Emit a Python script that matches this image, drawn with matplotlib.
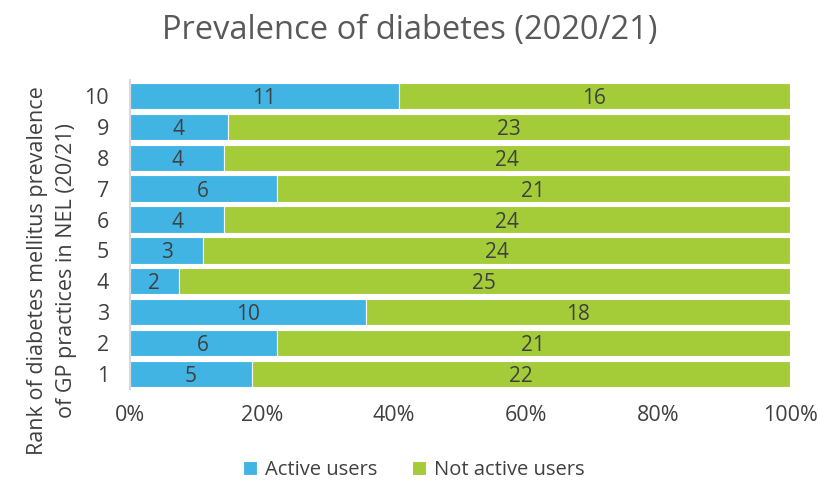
import matplotlib
matplotlib.use("Agg")
import matplotlib.pyplot as plt
import numpy as np

plt.rcParams['font.family'] = ['Open Sans', 'DejaVu Sans']

ranks = ["1", "2", "3", "4", "5", "6", "7", "8", "9", "10"]
active = [5, 6, 10, 2, 3, 4, 6, 4, 4, 11]
not_active = [22, 21, 18, 25, 24, 24, 21, 24, 23, 16]

blue = "#41B4E4"
green = "#A4CC38"
txt = "#404040"

act = np.array(active, float)
nact = np.array(not_active, float)
tot = act + nact
pa = act / tot
pn = nact / tot

fig = plt.figure(figsize=(8.19, 4.86), dpi=100)
ax = fig.add_axes([0.1587, 0.1986, 0.9646 - 0.1587, 0.8344 - 0.1986])
y = np.arange(len(ranks))
b1 = ax.barh(y, pa, height=0.85, color=blue, edgecolor="white", linewidth=0.8, label="Active users")
b2 = ax.barh(y, pn, left=pa, height=0.85, color=green, edgecolor="white", linewidth=0.8, label="Not active users")
for i in range(len(ranks)):
    ax.text(pa[i] / 2, y[i], str(active[i]), ha="center", va="center_baseline", fontsize=15, color=txt)
    ax.text(pa[i] + pn[i] / 2, y[i], str(not_active[i]), ha="center", va="center_baseline", fontsize=15, color=txt)

ax.set_xlim(0, 1)
ax.set_ylim(-0.5, len(ranks) - 0.5)
ax.set_yticks(y)
ax.set_yticklabels(ranks)
ax.set_xticks(np.linspace(0, 1, 6))
ax.set_xticklabels([f"{int(v*100)}%" for v in np.linspace(0, 1, 6)])
ax.tick_params(axis="both", length=0, labelsize=15.5, labelcolor=txt)
ax.tick_params(axis="y", pad=15)
ax.tick_params(axis="x", pad=11)
for s in ["top", "right", "bottom"]:
    ax.spines[s].set_visible(False)
ax.spines["left"].set_color("#d9d9d9")
ax.spines["left"].set_linewidth(1.5)

ax.set_ylabel("Rank of diabetes mellitus prevalence\nof GP practices in NEL (20/21)", fontsize=15.5, color=txt,
              linespacing=1.5, va="center", ha="center")
ax.yaxis.set_label_coords(-0.118, 0.385)
fig.text(0.50, 0.938, "Prevalence of diabetes (2020/21)", ha="center", va="center", fontsize=23.5, color="#595959")
fig.legend(handles=[b1, b2], loc="center", bbox_to_anchor=(0.505, 0.033), ncol=2, frameon=False,
           fontsize=14.5, handlelength=0.7, handleheight=0.7, columnspacing=1.7, handletextpad=0.4,
           labelcolor=txt)

fig.savefig("out.png", dpi=100)
